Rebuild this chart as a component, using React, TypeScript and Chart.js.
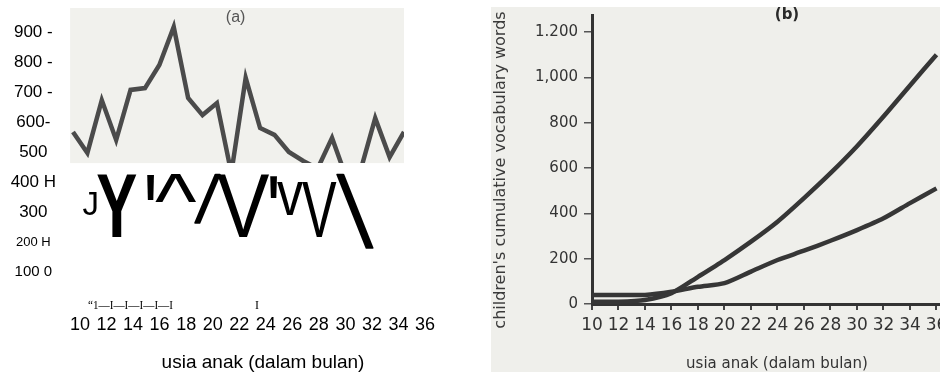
import React, { useEffect, useRef } from "react";
import { Chart, registerables } from "chart.js";

Chart.register(...registerables);

// ---------------- Panel (a) data ----------------
const titleA = "(a)";
const sampleIndexA = [0, 1, 2, 3, 4, 5, 6, 7, 8, 9, 10, 11, 12, 13, 14, 15, 16, 17, 18, 19, 20, 21, 22, 23];
const valuesA = [567, 497, 673, 540, 707, 713, 790, 917, 680, 623, 663, 430, 747, 580, 557, 500, 470, 445, 547, 413, 442, 613, 483, 567];
const yTickValuesA = [100, 200, 300, 400, 500, 600, 700, 800, 900];
const yTickLabelsA = ["100 0", "200 H", "300", "400 H", "500", "600-", "700 -", "800 -", "900 -"];
const monthTicks = [10, 12, 14, 16, 18, 20, 22, 24, 26, 28, 30, 32, 34, 36];
const xAxisTitle = "usia anak (dalam bulan)";
const scanGlyphsA = ["J", "Y", "'", "^", "/", "V", "'", "v", "V", "\\"];
const scanTickTextA = ["\u201C1\u2014I\u2014I\u2014I\u2014I\u2014I", "I"];

// ---------------- Panel (b) data ----------------
const titleB = "(b)";
const monthsB = [10, 12, 14, 16, 18, 20, 22, 24, 26, 28, 30, 32, 34, 36];
const vocabUpper = [10, 10, 18, 48, 120, 194, 275, 363, 467, 577, 696, 827, 964, 1100];
const vocabLower = [40, 40, 40, 54, 76, 92, 143, 194, 235, 279, 326, 378, 445, 510];
const yTickValuesB = [0, 200, 400, 600, 800, 1000, 1200];
const yTickLabelsB = ["0", "200", "400", "600", "800", "1,000", "1.200"];
const yAxisTitleB = "children's cumulative vocabulary words";

// ---------------- layout / style (not data) ----------------
const SANS = "Liberation Sans";
const DEJAVU = "DejaVu Sans";
const glyphBoxesA = [
  { x: 83, y: 192, w: 14, h: 23, font: `normal 80px ${SANS}`, thicken: 0 },
  { x: 97, y: 175, w: 40, h: 62, font: `bold 80px ${SANS}`, thicken: 0 },
  { x: 147, y: 175, w: 7, h: 25, font: `bold 80px ${SANS}`, thicken: 0 },
  { x: 155, y: 175, w: 42, h: 28, font: `normal 80px ${SANS}`, thicken: 0 },
  { x: 195, y: 175, w: 25, h: 48, font: `200 80px "${DEJAVU}"`, thicken: 1.8 },
  { x: 217, y: 175, w: 53, h: 62, font: `normal 80px ${SANS}`, thicken: 0 },
  { x: 270, y: 175, w: 7, h: 22, font: `bold 80px ${SANS}`, thicken: 0 },
  { x: 277, y: 182, w: 26, h: 33, font: `normal 80px ${SANS}`, thicken: 0 },
  { x: 302, y: 182, w: 35, h: 55, font: `normal 80px ${SANS}`, thicken: 0 },
  { x: 337, y: 175, w: 36, h: 73, font: `200 80px "${DEJAVU}"`, thicken: 1.8 },
];
const SCAN_BG_A = "#f1f1ed";
const SCAN_BG_B = "#efefeb";
const SCAN_INK = "#363636";

const zeroPad = (axis: any) => {
  axis.paddingTop = 0;
  axis.paddingBottom = 0;
  axis.paddingLeft = 0;
  axis.paddingRight = 0;
};

const panelAPlugin = {
  id: "panelA",
  beforeDatasetsDraw(chart: any) {
    const { ctx, chartArea } = chart;
    const xd = chart.scales.xd;
    const y = chart.scales.y;
    const left = xd.getPixelForValue(-0.2);
    const right = xd.getPixelForValue(23);
    const top = chartArea.top;
    const bottom = y.getPixelForValue(463);
    ctx.save();
    ctx.fillStyle = SCAN_BG_A;
    ctx.fillRect(left, top, right - left, bottom - top);
    ctx.beginPath();
    ctx.rect(left, top, right - left, bottom - top);
    ctx.clip();
  },
  afterDatasetsDraw(chart: any) {
    chart.ctx.restore();
  },
  afterDraw(chart: any) {
    const { ctx } = chart;
    const xd = chart.scales.xd;
    ctx.save();
    ctx.fillStyle = "#555";
    ctx.font = `16px ${SANS}`;
    ctx.textAlign = "center";
    ctx.textBaseline = "middle";
    ctx.fillText(titleA, xd.getPixelForValue(11.3), 17.5);
    ctx.restore();

    ctx.save();
    ctx.fillStyle = "#000";
    ctx.strokeStyle = "#000";
    scanGlyphsA.forEach((ch, i) => {
      const b = glyphBoxesA[i];
      ctx.save();
      ctx.font = b.font;
      ctx.textAlign = "left";
      ctx.textBaseline = "alphabetic";
      const m = ctx.measureText(ch);
      const gw = m.actualBoundingBoxLeft + m.actualBoundingBoxRight;
      const gh = m.actualBoundingBoxAscent + m.actualBoundingBoxDescent;
      const sx = b.w / gw;
      const sy = b.h / gh;
      ctx.translate(b.x, b.y);
      ctx.scale(sx, sy);
      ctx.fillText(ch, m.actualBoundingBoxLeft, m.actualBoundingBoxAscent);
      if (b.thicken > 0) {
        ctx.lineWidth = b.thicken / Math.sqrt(sx * sy);
        ctx.lineJoin = "round";
        ctx.strokeText(ch, m.actualBoundingBoxLeft, m.actualBoundingBoxAscent);
      }
      ctx.restore();
    });
    ctx.restore();

    ctx.save();
    ctx.fillStyle = "#000";
    ctx.font = `12px "Liberation Serif"`;
    ctx.textAlign = "left";
    ctx.textBaseline = "alphabetic";
    ctx.fillText(scanTickTextA[0], 88, 309, 85);
    ctx.fillText(scanTickTextA[1], 255, 309);
    ctx.restore();
  },
};

const panelBPlugin = {
  id: "panelB",
  beforeDraw(chart: any) {
    const { ctx, width, height } = chart;
    ctx.save();
    ctx.fillStyle = SCAN_BG_B;
    ctx.fillRect(0, 7, width, height - 7);
    ctx.restore();
  },
  afterDraw(chart: any) {
    const { ctx } = chart;
    ctx.save();
    ctx.fillStyle = "#2a2a2a";
    ctx.font = `bold 15px ${DEJAVU}`;
    ctx.textAlign = "center";
    ctx.textBaseline = "middle";
    ctx.fillText(titleB, 296, 15.5);
    ctx.translate(9.5, 170);
    ctx.rotate(-Math.PI / 2);
    ctx.font = `16px ${DEJAVU}`;
    ctx.fillStyle = "#3a3a3a";
    ctx.fillText(yAxisTitleB, 0, 0);
    ctx.restore();
  },
};

export default function App() {
  const refA = useRef<HTMLCanvasElement>(null);
  const refB = useRef<HTMLCanvasElement>(null);

  useEffect(() => {
    const chartA = new Chart(refA.current as HTMLCanvasElement, {
      type: "line",
      data: {
        datasets: [
          {
            data: sampleIndexA.map((i, k) => ({ x: i, y: valuesA[k] })),
            xAxisID: "xd",
            yAxisID: "y",
            borderColor: "#4b4b4b",
            borderWidth: 4.5,
            pointRadius: 0,
            tension: 0,
            fill: false,
          },
        ],
      },
      options: {
        animation: false,
        responsive: false,
        devicePixelRatio: 1,
        layout: { padding: { top: 8, right: 8, left: 0, bottom: 0 } },
        plugins: { legend: { display: false }, tooltip: { enabled: false }, title: { display: false } },
        scales: {
          x: {
            type: "linear",
            position: "bottom",
            min: 8.794,
            max: 38.787,
            afterBuildTicks: (axis: any) => {
              axis.ticks = monthTicks.map((v) => ({ value: v }));
            },
            afterFit: (axis: any) => {
              axis.height = 70;
              zeroPad(axis);
            },
            grid: { display: false, drawTicks: false },
            border: { display: false },
            ticks: {
              autoSkip: false,
              maxRotation: 0,
              padding: 12,
              color: "#000",
              font: { family: SANS, size: 18 },
              callback: (v: any) => String(v),
            },
            title: {
              display: true,
              text: xAxisTitle,
              color: "#000",
              font: { family: SANS, size: 19, lineHeight: 1 },
              padding: { top: 0, bottom: 0 },
            },
          },
          xd: {
            type: "linear",
            display: false,
            min: -0.625,
            max: 27.03,
          },
          y: {
            type: "linear",
            position: "left",
            min: 0,
            max: 980,
            afterBuildTicks: (axis: any) => {
              axis.ticks = yTickValuesA.map((v) => ({ value: v }));
            },
            afterFit: (axis: any) => {
              axis.width = 64;
              zeroPad(axis);
            },
            grid: { display: false, drawTicks: false },
            border: { display: false },
            ticks: {
              crossAlign: "center",
              padding: 8,
              color: "#000",
              font: (c: any) => {
                const v = c.tick ? c.tick.value : 0;
                if (v === 200) return { family: SANS, size: 13 };
                if (v === 100) return { family: SANS, size: 15 };
                return { family: SANS, size: 17 };
              },
              callback: (v: any) => {
                const i = yTickValuesA.indexOf(Number(v));
                return i >= 0 ? yTickLabelsA[i] : "";
              },
            },
          },
        },
      },
      plugins: [panelAPlugin],
    } as any);

    const chartB = new Chart(refB.current as HTMLCanvasElement, {
      type: "line",
      data: {
        datasets: [
          {
            data: monthsB.map((m, k) => ({ x: m, y: vocabUpper[k] })),
            borderColor: SCAN_INK,
            borderWidth: 4.5,
            pointRadius: 0,
            tension: 0.25,
            fill: false,
          },
          {
            data: monthsB.map((m, k) => ({ x: m, y: vocabLower[k] })),
            borderColor: SCAN_INK,
            borderWidth: 4.5,
            pointRadius: 0,
            tension: 0.25,
            fill: false,
          },
        ],
      },
      options: {
        animation: false,
        responsive: false,
        devicePixelRatio: 1,
        layout: { padding: { top: 15, right: 0, left: 0, bottom: 0 } },
        plugins: { legend: { display: false }, tooltip: { enabled: false }, title: { display: false } },
        scales: {
          x: {
            type: "linear",
            position: "bottom",
            min: 10,
            max: 37.925,
            afterBuildTicks: (axis: any) => {
              axis.ticks = monthsB.map((v) => ({ value: v }));
            },
            afterFit: (axis: any) => {
              axis.height = 68;
              zeroPad(axis);
            },
            grid: { display: true, drawOnChartArea: false, drawTicks: true, tickLength: 6, color: "#444", lineWidth: 2 },
            border: { display: true, color: "#333", width: 3 },
            ticks: {
              autoSkip: false,
              maxRotation: 0,
              padding: 5,
              color: "#333",
              font: { family: DEJAVU, size: 17 },
              callback: (v: any) => String(v),
            },
            title: {
              display: true,
              text: xAxisTitle,
              color: "#333",
              font: { family: DEJAVU, size: 15, lineHeight: 1 },
              padding: { top: 0, bottom: 0 },
            },
          },
          y: {
            type: "linear",
            position: "left",
            min: 0,
            max: 1275,
            afterBuildTicks: (axis: any) => {
              axis.ticks = yTickValuesB.map((v) => ({ value: v }));
            },
            afterFit: (axis: any) => {
              axis.width = 101;
              zeroPad(axis);
            },
            grid: { display: true, drawOnChartArea: false, drawTicks: true, tickLength: 8, color: "#555", lineWidth: 1.5 },
            border: { display: true, color: "#333", width: 3 },
            ticks: {
              padding: 6,
              color: "#333",
              font: { family: DEJAVU, size: 15 },
              callback: (v: any) => {
                const i = yTickValuesB.indexOf(Number(v));
                return i >= 0 ? yTickLabelsB[i] : "";
              },
            },
          },
        },
      },
      plugins: [panelBPlugin],
    } as any);

    return () => {
      chartA.destroy();
      chartB.destroy();
    };
  }, []);

  return (
    <div
      style={{
        position: "absolute",
        left: 0,
        top: 0,
        width: 940,
        height: 372,
        overflow: "hidden",
        background: "#fff",
      }}
    >
      <canvas ref={refA} width={470} height={372} style={{ position: "absolute", left: 0, top: 0 }} />
      <canvas
        ref={refB}
        width={471}
        height={372}
        style={{ position: "absolute", left: 491, top: 0, filter: "blur(0.5px)" }}
      />
    </div>
  );
}
